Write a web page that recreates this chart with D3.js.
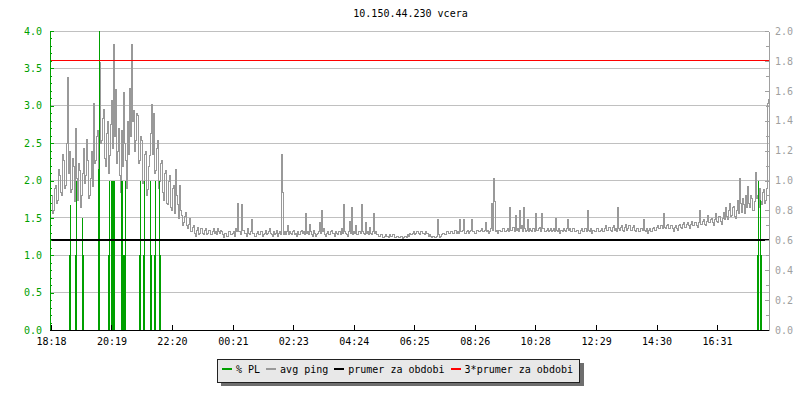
<!DOCTYPE html>
<html><head><meta charset="utf-8">
<script src="https://cdn.jsdelivr.net/npm/d3@7"></script>
<style>
body{margin:0;background:#fff}
svg{display:block;font-family:"DejaVu Sans Mono",monospace}
</style></head><body>
<svg id="c" width="800" height="400"></svg>
<script>
// ---------------- data ----------------
const title = "10.150.44.230 vcera";
const spanMinutes = 1435;              // 18:18 -> ~18:13 next day
const xTickMinutes = [0, 121, 242, 364, 485, 606, 727, 848, 969, 1091, 1212, 1333];
const xTickLabels = ["18:18","20:19","22:20","00:21","02:23","04:24","06:25","08:26","10:28","12:29","14:30","16:31"];
const leftTicks = [0, 0.5, 1, 1.5, 2, 2.5, 3, 3.5, 4];
const rightTicks = [0, 0.2, 0.4, 0.6, 0.8, 1.0, 1.2, 1.4, 1.6, 1.8, 2.0];

// avg ping (ms, right axis), one sample every 2 minutes
const pingStep = 2;
const pingValues = [
 0.90,0.78,0.80,0.95,0.97,0.85,0.87,1.08,1.04,0.92, 0.90,1.18,1.14,0.95,0.97,1.25,1.69,1.05,1.20,0.92,
 0.94,1.15,1.10,0.86,1.35,1.02,0.87,1.12,1.07,0.82, 0.90,1.05,1.22,0.98,1.04,1.28,1.14,0.88,0.90,1.02,
 1.20,0.96,1.52,1.12,1.14,1.30,1.34,1.08,1.79,1.25, 1.27,1.42,1.48,1.15,1.10,1.32,1.40,1.05,1.17,1.38,
 1.54,1.22,1.91,1.30,1.61,1.12,1.20,1.35,1.04,0.92, 1.34,1.10,1.59,1.25,1.14,0.95,1.40,1.18,1.62,1.30,
 1.91,1.40,1.47,1.20,1.27,1.45,1.44,1.12,1.14,1.30, 1.27,0.98,1.00,1.18,1.20,0.90,0.94,1.10,1.17,1.32,
 1.51,1.18,1.45,1.05,1.07,1.22,1.27,0.95,1.00,1.12, 1.14,0.92,0.87,1.05,1.07,0.85,0.84,1.00,1.04,0.82,
 0.80,0.95,0.97,0.78,1.08,0.90,0.84,0.75,0.97,0.80, 0.77,0.70,0.72,0.76,0.79,0.70,
 0.68,0.71,0.75,0.66,0.66,0.69,0.70,0.65,0.63,0.67, 0.69,0.64,0.65,0.68,0.68,0.65,0.64,0.67,0.68,0.64,
 0.65,0.67,0.67,0.64,0.64,0.66,0.68,0.65,0.66,0.64, 0.68,0.66,0.65,0.67,0.66,0.64,0.62,0.65,0.65,0.63,
 0.63,0.66,0.66,0.64,0.64,0.65,0.66,0.63,0.68,0.66,
 0.85,0.66,0.66,0.64,0.84,0.67,0.67,0.65,0.65,0.63, 0.68,0.65,0.64,0.66,0.74,0.65,0.65,0.63,0.63,0.65,
 0.66,0.64,0.64,0.66,0.66,0.63,0.64,0.65,0.67,0.64, 0.65,0.66,0.68,0.65,0.64,0.63,0.66,0.64,0.65,0.67,
 0.63,0.65,0.66,0.64,1.18,0.92,0.64,0.66,0.64,0.66, 0.70,0.64,0.66,0.65,0.64,0.66,0.67,0.64,0.65,0.63,
 0.66,0.64,0.64,0.66,0.67,0.65,0.66,0.64,0.78,0.65, 0.66,0.64,0.71,0.66,0.64,0.63,0.67,0.65,0.63,0.64,
 0.65,0.66,0.72,0.65,0.80,0.66,0.68,0.64,0.63,0.65, 0.66,0.64,0.64,0.66,0.67,0.65,0.65,0.63,0.66,0.65,
 0.64,0.66,0.66,0.64,0.68,0.65,0.84,0.66,0.65,0.64, 0.63,0.66,0.73,0.65,0.82,0.64,0.66,0.65,0.70,0.64,
 0.64,0.66,0.66,0.65,0.84,0.66,0.65,0.64,0.72,0.65, 0.66,0.64,0.69,0.65,0.64,0.66,0.78,0.65,0.66,0.64,
 0.64,0.63,0.63,0.64,0.64,0.62,0.62,0.63,0.64,0.63, 0.63,0.62,0.64,0.63,0.63,0.64,0.64,0.62,0.62,0.63,
 0.63,0.62,0.62,0.63,0.63,0.61,0.62,0.63,0.63,0.62, 0.64,0.63,0.65,0.64,0.64,0.65,0.66,0.64,0.65,0.66,
 0.66,0.65,0.64,0.66,0.66,0.65,0.65,0.64,0.66,0.65, 0.65,0.63,0.64,0.63,0.62,0.63,0.63,0.62,0.62,0.63,
 0.74,0.64,0.62,0.63,0.64,0.65,0.65,0.64,0.64,0.66, 0.66,0.65,0.65,0.66,0.66,0.65,0.65,0.67,0.67,0.65,
 0.66,0.65,0.74,0.66,0.66,0.67,0.74,0.65,0.65,0.66, 0.67,0.65,0.66,0.67,0.74,0.66,0.66,0.65,0.65,0.67,
 0.67,0.66,0.66,0.67,0.68,0.66,0.66,0.67,0.72,0.66, 0.67,0.65,0.66,0.68,0.85,0.67,1.02,0.86,0.66,0.67,
 0.65,0.67,0.67,0.66,0.66,0.68,0.68,0.66,0.66,0.67, 0.68,0.66,0.82,0.67,0.67,0.69,0.69,0.66,0.77,0.67,
 0.68,0.66,0.80,0.68,0.70,0.66,0.82,0.68,0.66,0.67, 0.74,0.66,0.68,0.67,0.66,0.68,0.68,0.66,0.78,0.67,
 0.67,0.68,0.69,0.66,0.78,0.68,0.68,0.66,0.66,0.67, 0.68,0.66,0.67,0.68,0.66,0.67,0.68,0.66,0.75,0.67,
 0.66,0.68,0.65,0.67,0.67,0.66,0.68,0.67,0.66,0.68, 0.74,0.67,0.68,0.66,
 0.66,0.68,0.68,0.66,0.66,0.67,0.67,0.65,0.65,0.67, 0.68,0.66,0.66,0.68,0.68,0.66,0.80,0.67,0.66,0.68,
 0.65,0.67,0.67,0.66,0.66,0.68,0.68,0.66,0.66,0.67, 0.68,0.66,0.66,0.68,0.70,0.67,0.67,0.69,0.69,0.67,
 0.66,0.69,0.70,0.67,0.68,0.66,0.82,0.68,0.67,0.69, 0.70,0.67,0.66,0.69,0.71,0.67,0.68,0.70,0.70,0.67,
 0.67,0.69,0.70,0.67,0.66,0.68,0.68,0.66,0.66,0.68, 0.68,0.67,0.74,0.67,0.66,0.68,0.65,0.67,0.68,0.66,
 0.66,0.68,0.69,0.67,0.67,0.69,0.70,0.68,0.68,0.70, 0.70,0.68,0.78,0.69,0.68,0.70,0.71,0.68,0.68,0.70,
 0.70,0.68,0.66,0.69,0.70,0.68,0.67,0.70,0.71,0.69, 0.68,0.71,0.72,0.69,0.69,0.71,0.72,0.70,0.68,0.71,
 0.73,0.70,0.70,0.72,0.72,0.70,0.69,0.72,0.80,0.71, 0.71,0.73,0.74,0.71,0.70,0.73,0.77,0.72,0.72,0.74,
 0.75,0.72,0.70,0.74,0.78,0.73,0.72,0.76,0.76,0.73, 0.71,0.75,0.79,0.74,0.82,0.76,0.74,0.80,0.85,0.76,
 0.77,0.82,0.83,0.76,0.75,0.80,0.87,0.78,1.02,0.85, 0.79,0.88,0.84,0.78,0.90,0.82,0.96,0.85,0.82,0.90,
 0.88,0.80,0.80,0.86,1.06,0.88,0.90,0.82,0.95,0.86, 0.84,0.92,0.94,0.85,0.87,0.95,1.52,1.55
];

// % packet loss (left axis), non-zero samples only; each sample lasts 2 minutes
const plStep = 2;
const plMinutes = [36,38, 48,50, 62,64, 94,96, 114,116, 120,122,124,126, 140,142,144,146,148, 176,178, 184,186, 198,200, 206,208, 216,218, 1412,1414, 1418,1420];
const plValues  = [1.0,1.67, 1.0,2.0, 1.5,1.0, 2.15,4.0, 1.0,2.0, 2.0,2.0,2.0,2.0, 2.0,2.0,1.0,1.0,2.0, 1.0,2.0, 1.0,2.0, 2.0,1.0, 1.0,2.0, 2.0,1.0, 1.0,2.0, 1.74,1.0];

const avgPing = 0.6;        // prumer za obdobi (ms)
const avgPing3 = 1.8;       // 3*prumer za obdobi (ms)

const legendNames  = ["% PL", "avg ping", "prumer za obdobi", "3*prumer za obdobi"];
const legendColors = ["#00a000", "#999999", "#000000", "#ff0000"];

// ---------------- chart ----------------
const L = 51, R = 768, T = 31, B = 330;
const FONT = "DejaVu Sans Mono, monospace";
const x  = d3.scaleLinear().domain([0, spanMinutes]).range([L, R]);
const yL = d3.scaleLinear().domain([0, 4]).range([B, T]);
const yR = d3.scaleLinear().domain([0, 2]).range([B, T]);
const svg = d3.select("#c");

// title
svg.append("text").attr("x", (L + R) / 2 + 1).attr("y", 17).attr("text-anchor", "middle")
  .attr("font-size", 10).attr("font-family", FONT).attr("fill", "#000").text(title);

// grid
svg.append("g").selectAll("line").data(leftTicks.filter(d => d > 0)).join("line")
  .attr("x1", L).attr("x2", R + 1).attr("y1", d => yL(d)).attr("y2", d => yL(d))
  .attr("stroke", "#c0c0c0").attr("shape-rendering", "crispEdges");

// avg ping line
svg.append("path")
  .datum(pingValues)
  .attr("d", d3.line().x((d, i) => Math.round(x(i * pingStep)) + 0.5).y(d => Math.round(yR(d)) + 0.5).curve(d3.curveStepAfter))
  .attr("fill", "none").attr("stroke", "#999999").attr("stroke-width", 1)
  .attr("shape-rendering", "crispEdges");

// packet loss bars
const plData = plMinutes.map((m, i) => ({m, v: plValues[i]}));
svg.append("g").selectAll("rect").data(plData).join("rect")
  .attr("x", d => Math.round(x(d.m)))
  .attr("width", d => Math.max(1, Math.round(x(d.m + plStep)) - Math.round(x(d.m))))
  .attr("y", d => Math.round(yL(d.v))).attr("height", d => Math.round(yL(0)) - Math.round(yL(d.v)))
  .attr("fill", "#00a000").attr("shape-rendering", "crispEdges");

// average lines
svg.append("line").attr("x1", L).attr("x2", R + 1).attr("y1", yR(avgPing)).attr("y2", yR(avgPing))
  .attr("stroke", "#000").attr("stroke-width", 2).attr("shape-rendering", "crispEdges");
svg.append("line").attr("x1", L).attr("x2", R + 1).attr("y1", yR(avgPing3)).attr("y2", yR(avgPing3))
  .attr("stroke", "#ff0000").attr("stroke-width", 1).attr("shape-rendering", "crispEdges");

function styleAxis(g, color, textColor) {
  g.selectAll("path.domain").attr("stroke", color).attr("shape-rendering", "crispEdges");
  g.selectAll(".tick line").attr("stroke", color).attr("shape-rendering", "crispEdges");
  g.selectAll(".tick text").attr("fill", textColor).attr("font-size", 10).attr("font-family", FONT);
}

// left axis
const gLm = svg.append("g").attr("transform", `translate(${L - 1},0)`)
  .call(d3.axisLeft(yL).tickValues(d3.range(0, 41).map(d => d / 10)).tickSize(-2).tickSizeOuter(0).tickFormat(""));
styleAxis(gLm, "#00a000", "#00a000");
const gL = svg.append("g").attr("transform", `translate(${L - 1},0)`)
  .call(d3.axisLeft(yL).tickValues(leftTicks).tickSize(-4).tickSizeOuter(0).tickPadding(8).tickFormat(d3.format(".1f")));
styleAxis(gL, "#00a000", "#00a000");

// right axis
const gRm = svg.append("g").attr("transform", `translate(${R + 1},0)`)
  .call(d3.axisRight(yR).tickValues(d3.range(0, 21).map(d => d / 10)).tickSize(-3).tickSizeOuter(0).tickFormat(""));
styleAxis(gRm, "#a0a0a0", "#a0a0a0");
const gR = svg.append("g").attr("transform", `translate(${R + 1},0)`)
  .call(d3.axisRight(yR).tickValues(rightTicks).tickSize(-4).tickSizeOuter(0).tickPadding(6).tickFormat(d3.format(".1f")));
styleAxis(gR, "#a0a0a0", "#a0a0a0");

// bottom axis
const gB = svg.append("g").attr("transform", `translate(0,${B})`)
  .call(d3.axisBottom(x).tickValues(xTickMinutes).tickSize(-5).tickSizeOuter(0).tickPadding(8)
    .tickFormat((d, i) => xTickLabels[i]));
styleAxis(gB, "#000", "#000");
gB.select("path.domain").attr("d", `M${L - 1},0.5H${R + 1}`);

// legend
const lg = svg.append("g");
lg.append("rect").attr("x", 221).attr("y", 363).attr("width", 363).attr("height", 23).attr("fill", "#6e6e6e");
lg.append("rect").attr("x", 217.5).attr("y", 359.5).attr("width", 362).attr("height", 23)
  .attr("fill", "#e8e8e8").attr("stroke", "#222");
let lx = 222;
legendNames.forEach((name, i) => {
  lg.append("line").attr("x1", lx).attr("x2", lx + 10).attr("y1", 369).attr("y2", 369)
    .attr("stroke", legendColors[i]).attr("stroke-width", 2).attr("shape-rendering", "crispEdges");
  const t = lg.append("text").attr("x", lx + 14).attr("y", 373).attr("font-size", 10)
    .attr("font-family", FONT).attr("fill", "#000").text(name);
  lx = lx + 14 + t.node().getComputedTextLength() + 6;
});
</script>
</body></html>
